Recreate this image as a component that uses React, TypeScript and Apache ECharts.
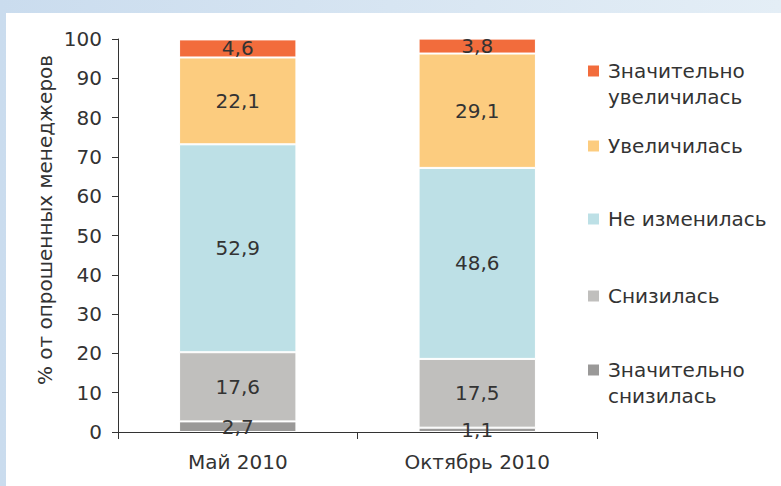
import React, { useEffect, useRef } from "react";
import * as echarts from "echarts";

const categories = ["Май 2010", "Октябрь 2010"];
const seriesNames = [
  "Значительно снизилась",
  "Снизилась",
  "Не изменилась",
  "Увеличилась",
  "Значительно увеличилась",
];
const legendLabels = [
  "Значительно\nснизилась",
  "Снизилась",
  "Не изменилась",
  "Увеличилась",
  "Значительно\nувеличилась",
];
const sharplyDown = [2.7, 1.1];
const down = [17.6, 17.5];
const unchanged = [52.9, 48.6];
const up = [22.1, 29.1];
const sharplyUp = [4.6, 3.8];
const seriesValues = [sharplyDown, down, unchanged, up, sharplyUp];
const colors = ["#9a9998", "#c0bfbd", "#bde0e6", "#fccc7f", "#f26c3c"];
const yAxisTitle = "% от опрошенных менеджеров";

const FONT = "DejaVu Sans";
const TEXT = "#333333";

export default function App() {
  const ref = useRef<HTMLDivElement>(null);
  useEffect(() => {
    if (!ref.current) return;
    const chart = echarts.init(ref.current, undefined, { renderer: "svg" });
    // legend line-centre positions (top of first line centre), from top to bottom
    const legendOrder = [4, 3, 2, 1, 0];
    const legendY = [71, 146, 219, 296, 370];
    const legendGraphics: any[] = [];
    legendOrder.forEach((si, k) => {
      const cy = legendY[k];
      legendGraphics.push({
        type: "rect",
        shape: { x: 588, y: cy - 5.5, width: 11, height: 11 },
        style: { fill: colors[si] },
        z: 10,
      });
      legendGraphics.push({
        type: "text",
        x: 608,
        y: cy - 13,
        style: {
          text: legendLabels[si],
          font: `20px "${FONT}"`,
          fill: TEXT,
          lineHeight: 26,
          textVerticalAlign: "top",
          verticalAlign: "top",
        },
        z: 10,
      });
    });

    const option: any = {
      animation: false,
      backgroundColor: {
        type: "linear",
        x: 0,
        y: 0,
        x2: 1,
        y2: 0,
        colorStops: [
          { offset: 0, color: "#cadcee" },
          { offset: 1, color: "#e4eef6" },
        ],
      },
      graphic: [
        {
          type: "rect",
          shape: { x: 6, y: 13, width: 800, height: 500 },
          style: { fill: "#ffffff" },
          z: -10,
          silent: true,
        },
        {
          type: "text",
          x: 45,
          y: 220,
          rotation: Math.PI / 2,
          style: {
            text: yAxisTitle,
            font: `20px "${FONT}"`,
            fill: TEXT,
            align: "center",
            verticalAlign: "middle",
          },
          z: 10,
        },
        ...legendGraphics,
      ],
      grid: { left: 118, top: 39, right: 184, bottom: 54, containLabel: false },
      xAxis: {
        type: "category",
        data: categories,
        axisLine: { show: true, lineStyle: { color: TEXT, width: 1 } },
        axisTick: { show: true, length: 7, lineStyle: { color: TEXT } },
        axisLabel: {
          color: TEXT,
          fontFamily: FONT,
          fontSize: 20,
          margin: 20,
        },
        splitLine: { show: false },
      },
      yAxis: {
        type: "value",
        min: 0,
        max: 100,
        interval: 10,
        axisLine: { show: true, lineStyle: { color: TEXT, width: 1 } },
        axisTick: { show: true, length: 6, lineStyle: { color: TEXT } },
        axisLabel: {
          color: TEXT,
          fontFamily: FONT,
          fontSize: 20,
          margin: 16,
        },
        splitLine: { show: false },
      },
      series: seriesValues.map((vals, i) => ({
        name: seriesNames[i],
        type: "bar",
        stack: "total",
        barWidth: "49%",
        data: vals,
        itemStyle: { color: colors[i], borderColor: "#ffffff", borderWidth: 1 },
        label: {
          show: true,
          position: "inside",
          color: TEXT,
          fontFamily: FONT,
          fontSize: 20,
          formatter: (p: any) => String(p.value).replace(".", ","),
        },
      })),
    };
    chart.setOption(option);
    return () => chart.dispose();
  }, []);
  return (
    <div
      ref={ref}
      style={{ position: "fixed", left: 0, top: 0, width: 781, height: 486 }}
    />
  );
}
